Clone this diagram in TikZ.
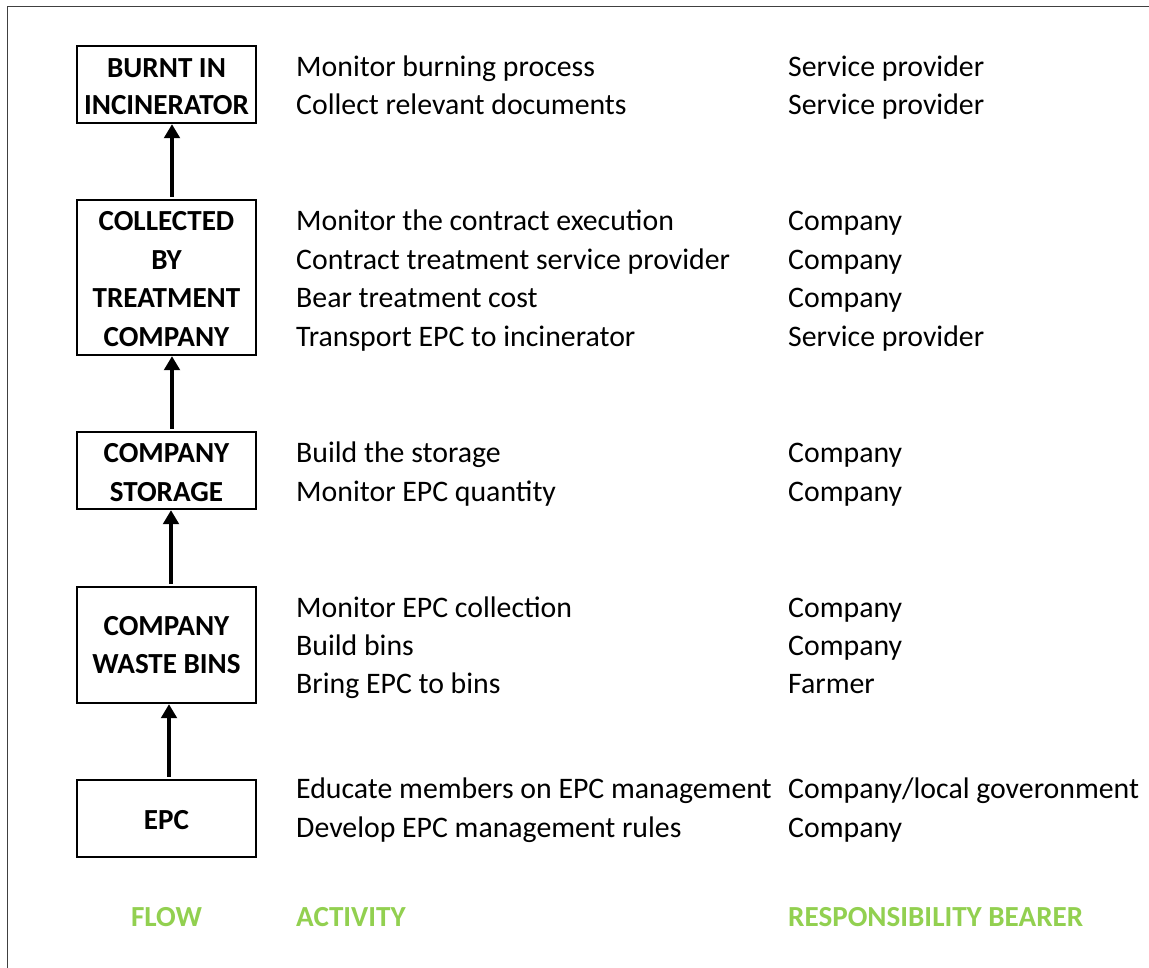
\documentclass[tikz,border=0pt]{standalone}
\usepackage{fontspec}
\setmainfont{Carlito}
\usetikzlibrary{arrows.meta}
\definecolor{hdgreen}{HTML}{92D050}
\definecolor{framegray}{HTML}{404040}
\newcommand\bodyfont{\fontsize{29.8}{36}\selectfont}
\newcommand\boldfont{\fontsize{29.1}{35}\selectfont\bfseries}
\begin{document}
\begin{tikzpicture}[x=1pt,y=-1pt,
  box/.style={draw, line width=2.3pt, inner sep=0pt, minimum width=179pt},
  boxtxt/.style={anchor=base, inner sep=0pt, font=\boldfont},
  act/.style={anchor=base west, inner sep=0pt, font=\bodyfont},
  hdr/.style={anchor=base west, inner sep=0pt, font=\boldfont, text=hdgreen},
  flowarr/.style={line width=4pt, -{Triangle[width=15.5pt,length=14pt]}, shorten <=2pt}]
\useasboundingbox (0,0) rectangle (1149,967);
\fill[white] (0,0) rectangle (1149,967);
\draw[framegray, line width=1.3pt] (7.5,990) -- (7.5,6.5) -- (1170,6.5);

% boxes
\node[box, minimum height=77pt]  (b1) at (166.5,84.5) {};
\node[box, minimum height=155pt] (b2) at (166.5,277.5) {};
\node[box, minimum height=77pt]  (b3) at (166.5,470.5) {};
\node[box, minimum height=116pt] (b4) at (166.5,645) {};
\node[box, minimum height=77pt]  (b5) at (166.5,818.5) {};

% box texts
\node[boxtxt] (b1l1) at (166.5,77) {BURNT IN};
\node[boxtxt] (b1l2) at (166.5,114) {INCINERATOR};
\node[boxtxt] (b2l1) at (166.5,230) {COLLECTED};
\node[boxtxt] (b2l2) at (166.5,269) {BY};
\node[boxtxt] (b2l3) at (166.5,307) {TREATMENT};
\node[boxtxt] (b2l4) at (166.5,346) {COMPANY};
\node[boxtxt] (b3l1) at (166.5,462) {COMPANY};
\node[boxtxt] (b3l2) at (166.5,501) {STORAGE};
\node[boxtxt] (b4l1) at (166.5,635) {COMPANY};
\node[boxtxt] (b4l2) at (166.5,673) {WASTE BINS};
\node[boxtxt] (b5l1) at (166.5,829) {EPC};

% arrows
\draw[flowarr] ([xshift=5.5pt]b2.north) -- ([xshift=5.5pt]b1.south);
\draw[flowarr] ([xshift=5.5pt]b3.north) -- ([xshift=5.5pt]b2.south);
\draw[flowarr] ([xshift=4.5pt]b4.north) -- ([xshift=4.5pt]b3.south);
\draw[flowarr] ([xshift=2.5pt]b5.north) -- ([xshift=2.5pt]b4.south);

% activities
\node[act] (a1)  at (296,76)  {Monitor burning process};
\node[act] (a2)  at (296,114) {Collect relevant documents};
\node[act] (a3)  at (296,230) {Monitor the contract execution};
\node[act] (a4)  at (296,269) {Contract treatment service provider};
\node[act] (a5)  at (296,307) {Bear treatment cost};
\node[act] (a6)  at (296,346) {Transport EPC to incinerator};
\node[act] (a7)  at (296,462) {Build the storage};
\node[act] (a8)  at (296,501) {Monitor EPC quantity};
\node[act] (a9)  at (296,617) {Monitor EPC collection};
\node[act] (a10) at (296,655) {Build bins};
\node[act] (a11) at (296,693) {Bring EPC to bins};
\node[act] (a12) at (296,798) {Educate members on EPC management};
\node[act] (a13) at (296,837) {Develop EPC management rules};

% responsibility
\node[act] (r1)  at (788,76)  {Service provider};
\node[act] (r2)  at (788,114) {Service provider};
\node[act] (r3)  at (788,230) {Company};
\node[act] (r4)  at (788,269) {Company};
\node[act] (r5)  at (788,307) {Company};
\node[act] (r6)  at (788,346) {Service provider};
\node[act] (r7)  at (788,462) {Company};
\node[act] (r8)  at (788,501) {Company};
\node[act] (r9)  at (788,617) {Company};
\node[act] (r10) at (788,655) {Company};
\node[act] (r11) at (788,693) {Farmer};
\node[act] (r12) at (788,798) {Company/local goveronment};
\node[act] (r13) at (788,837) {Company};

% headers
\node[hdr, anchor=base] (hflow) at (166.5,926) {FLOW};
\node[hdr] (hact) at (296,926) {ACTIVITY};
\node[hdr] (hresp) at (788,926) {RESPONSIBILITY BEARER};
\end{tikzpicture}
\end{document}
